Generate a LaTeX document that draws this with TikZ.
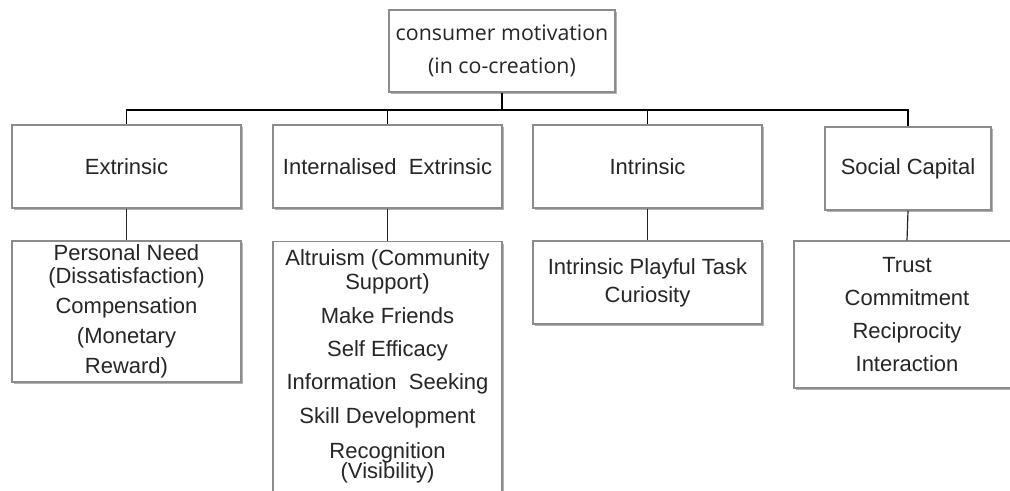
\documentclass[tikz,border=0pt]{standalone}
\usepackage{fontspec}
\setmainfont{Liberation Sans}
\newfontfamily\headfont{Open Sans}
\usetikzlibrary{shadows}
\definecolor{boxgray}{RGB}{140,140,140}
\definecolor{txt}{RGB}{38,38,38}

\begin{document}
\begin{tikzpicture}[x=0.75pt,y=-0.75pt,
  box/.style={draw=boxgray, line width=0.8pt, fill=white, inner sep=0pt,
    align=center, text=txt,
    drop shadow={shadow xshift=1.2pt, shadow yshift=-1.5pt, opacity=0.3, fill=black}},
  body/.style={font=\fontsize{16.5}{16.5}\selectfont},
  head/.style={font=\headfont\fontsize{16}{16.5}\selectfont},
  link/.style={draw=black!85, line width=0.9pt},
  bus/.style={draw=black, line width=1.1pt}]

\useasboundingbox (0,0) rectangle (1010,491);

% root
\node[box, head, minimum width=169.5pt, minimum height=61.5pt] (root) at (502,51)
  {consumer motivation\\[8.25pt](in co-creation)};

% categories
\node[box, body, minimum width=171.75pt, minimum height=62.25pt] (ext) at (126.5,166.5) {Extrinsic};
\node[box, body, minimum width=171.75pt, minimum height=62.25pt] (iext) at (387.5,166.5) {Internalised\ \ Extrinsic};
\node[box, body, minimum width=171.75pt, minimum height=62.25pt] (intr) at (647.5,166.5) {Intrinsic};
\node[box, body, minimum width=124.5pt, minimum height=62.25pt] (soc) at (908,168.5) {Social Capital};

% motive lists
\node[box, body, minimum width=171.75pt, minimum height=105.75pt] (extL) at (126.5,311.5)
  {Personal Need\\[0.75pt](Dissatisfaction)\\[6pt]Compensation\\[6pt](Monetary\\[6pt]Reward)};
\node[box, minimum width=171.75pt, minimum height=217.5pt, anchor=north] (iextL) at (387.5,241) {};
\node[body, text=txt, align=center, inner sep=0pt] (iextT) at (387.5,366.5)
  {Altruism (Community\\[1.5pt]Support)\\[9pt]Make Friends\\[8.25pt]Self Efficacy\\[8.25pt]Information\ \ Seeking\\[9pt]Skill Development\\[9.75pt]Recognition\\[-1.5pt](Visibility)};
\node[box, body, minimum width=171.75pt, minimum height=62.25pt] (intrL) at (647.5,282.5)
  {Intrinsic Playful Task\\[4.5pt]Curiosity};
\node[box, body, minimum width=169.5pt, minimum height=110.25pt] (socL) at (907,314.5)
  {Trust\\[8.25pt]Commitment\\[8.25pt]Reciprocity\\[8.25pt]Interaction};

% tree connectors
\coordinate (busy) at (502,110);
\draw[bus] (root.south) -- (root.south |- busy);
\draw[bus] (ext.north) -- (ext.north |- busy) -- (soc.north |- busy) -- (soc.north);
\draw[bus] (iext.north) -- (iext.north |- busy);
\draw[bus] (intr.north) -- (intr.north |- busy);

\draw[link] (ext.south) -- (extL.north);
\draw[link] (iext.south) -- (iextL.north);
\draw[link] (intr.south) -- (intrL.north);
\draw[link] (soc.south) -- (socL.north);
\end{tikzpicture}
\end{document}
